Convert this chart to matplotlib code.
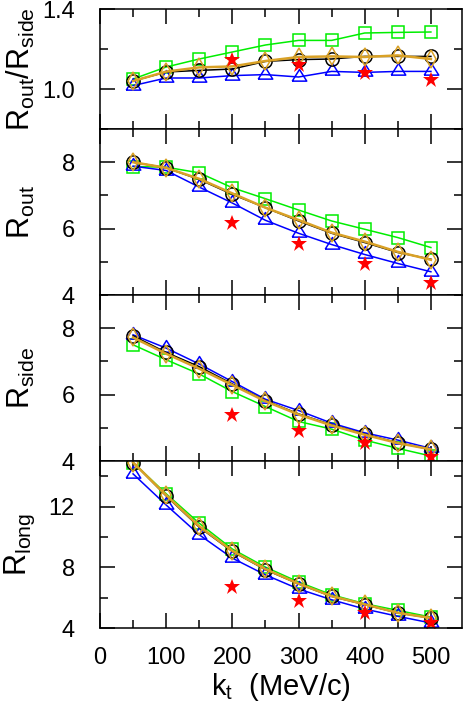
import numpy as np
import matplotlib
matplotlib.use("Agg")
import matplotlib.pyplot as plt
from matplotlib.ticker import MultipleLocator, FixedLocator

plt.rcParams["font.family"] = ["Liberation Sans", "DejaVu Sans"]
plt.rcParams["mathtext.default"] = "regular"

# k_t bins (MeV/c)
kt = [50, 100, 150, 200, 250, 300, 350, 400, 450, 500]
kt_star = [200, 300, 400, 500]

# Rout / Rside
ratio_green = [1.05, 1.11, 1.15, 1.185, 1.22, 1.243, 1.243, 1.28, 1.283, 1.285]
ratio_black = [1.04, 1.085, 1.093, 1.10, 1.138, 1.147, 1.15, 1.163, 1.163, 1.163]
ratio_gold = [1.04, 1.087, 1.108, 1.113, 1.14, 1.16, 1.163, 1.16, 1.168, 1.15]
ratio_blue = [1.017, 1.055, 1.055, 1.067, 1.072, 1.06, 1.088, 1.083, 1.088, 1.088]
ratio_star = [1.147, 1.122, 1.08, 1.043]

# Rout
rout_green = [7.87, 7.85, 7.68, 7.23, 6.9, 6.56, 6.23, 5.98, 5.73, 5.43]
rout_black = [8.0, 7.83, 7.48, 7.03, 6.63, 6.23, 5.86, 5.58, 5.28, 5.08]
rout_gold = [8.0, 7.83, 7.5, 7.06, 6.63, 6.26, 5.88, 5.61, 5.30, 5.06]
rout_blue = [7.88, 7.75, 7.25, 6.77, 6.25, 5.86, 5.52, 5.22, 4.95, 4.7]
rout_star = [6.18, 5.53, 4.93, 4.35]

# Rside
rside_green = [7.5, 7.05, 6.62, 6.09, 5.64, 5.19, 4.96, 4.63, 4.38, 4.15]
rside_black = [7.77, 7.27, 6.84, 6.32, 5.82, 5.42, 5.09, 4.81, 4.55, 4.35]
rside_gold = [7.72, 7.23, 6.78, 6.29, 5.8, 5.4, 5.07, 4.79, 4.54, 4.35]
rside_blue = [7.8, 7.4, 6.92, 6.39, 5.86, 5.52, 5.14, 4.85, 4.63, 4.38]
rside_star = [5.39, 4.91, 4.53, 4.13]

# Rlong
rlong_green = [14.9, 12.84, 10.9, 9.2, 8.01, 7.03, 6.19, 5.6, 5.16, 4.72]
rlong_black = [14.9, 12.7, 10.64, 9.04, 7.84, 6.9, 6.08, 5.54, 4.99, 4.66]
rlong_gold = [14.9, 12.75, 10.7, 9.08, 7.88, 6.92, 6.1, 5.56, 5.0, 4.66]
rlong_blue = [14.15, 12.1, 10.14, 8.6, 7.5, 6.57, 5.86, 5.25, 4.77, 4.33]
rlong_star = [6.7, 5.75, 4.99, 4.33]

# label, ylim, major ticks, minor ticks, series
panels = [
    (r"$R_{out}/R_{side}$", (0.8, 1.4), [1.0, 1.4], [0.8, 1.2],
     ratio_green, ratio_blue, ratio_black, ratio_gold, ratio_star),
    (r"$R_{out}$", (4, 9), [4, 6, 8], [5, 7, 9],
     rout_green, rout_blue, rout_black, rout_gold, rout_star),
    (r"$R_{side}$", (4, 9), [4, 6, 8], [5, 7, 9],
     rside_green, rside_blue, rside_black, rside_gold, rside_star),
    (r"$R_{long}$", (4, 15), [4, 8, 12], [6, 10, 14],
     rlong_green, rlong_blue, rlong_black, rlong_gold, rlong_star),
]

# triangle a bit wider than tall, point sits near the base
tri = [(-1.0, -0.5), (1.0, -0.5), (0.0, 1.1), (-1.0, -0.5)]
gold_col = "#d9a126"

fig, axes = plt.subplots(
    4, 1, figsize=(4.64, 7.16), dpi=100, sharex=True,
    gridspec_kw={"height_ratios": [120, 166, 166, 167], "hspace": 0},
)
fig.subplots_adjust(left=100 / 464, right=462 / 464, top=1 - 9 / 716, bottom=1 - 628 / 716)

for ax, (lab, ylim, major, minor, g, b, k, o, s) in zip(axes, panels):
    ax.plot(kt, g, color="#00ee00", lw=1.1, marker="s", ms=9, mfc="none", mew=1.1)
    ax.plot(kt, b, color="#0000ff", lw=1.1, marker=tri, ms=11.5, mfc="none", mew=1.1)
    ax.plot(kt, k, color="black", lw=1.1, marker="o", ms=9.5, mfc="none", mew=1.1)
    ax.plot(kt, o, color=gold_col, lw=1.8, marker="d", ms=9, mfc="none", mew=1.1)
    ax.plot(kt_star, s, ls="none", color="red", marker="*", ms=12, mew=0)

    ax.set_xlim(0, 547)
    ax.set_ylim(*ylim)
    ax.yaxis.set_major_locator(FixedLocator(major))
    ax.yaxis.set_minor_locator(FixedLocator(minor))
    ax.xaxis.set_major_locator(MultipleLocator(100))
    ax.xaxis.set_minor_locator(MultipleLocator(50))
    ax.tick_params(which="both", direction="in", top=True, right=True, width=1.1)
    ax.tick_params(which="major", length=11)
    ax.tick_params(which="minor", length=5.5)
    ax.tick_params(axis="y", labelsize=17, pad=18)
    ax.tick_params(axis="x", labelsize=17, pad=14)
    for sp in ax.spines.values():
        sp.set_linewidth(1.1)
    ax.set_ylabel(lab, fontsize=22)
    ax.yaxis.set_label_coords(-0.175, 0.5)

axes[0].yaxis.set_major_formatter(plt.FormatStrFormatter("%.1f"))
axes[-1].set_xlabel(r"$k_t$  (MeV/c)", fontsize=21, labelpad=1)

fig.savefig("out.png", dpi=100)
